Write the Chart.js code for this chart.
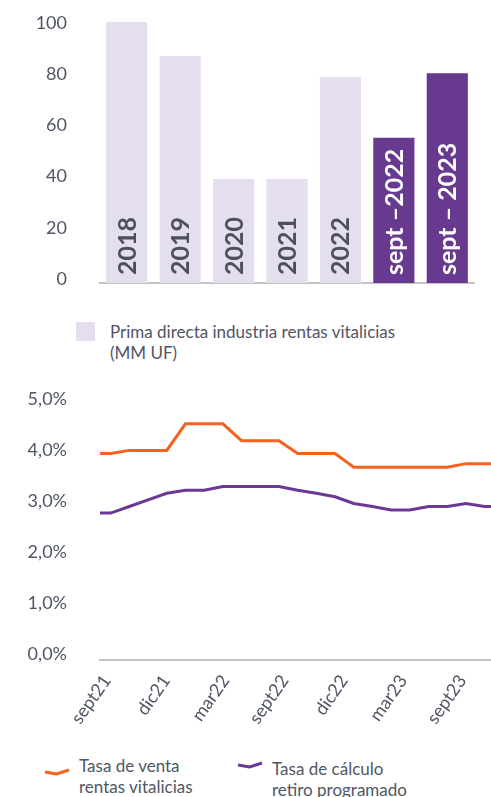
<!DOCTYPE html>
<html lang="es">
<head>
<meta charset="utf-8">
<title>Rentas vitalicias</title>
<script src="https://cdn.jsdelivr.net/npm/chart.js@4.4.1/dist/chart.umd.min.js"></script>
<style>
  html, body { margin: 0; padding: 0; background: #fff; }
  body { width: 491px; height: 797px; overflow: hidden; position: relative;
         font-family: Lato, sans-serif; color: #505664; }
  #primas-box { position: absolute; left: 0; top: 0; width: 491px; height: 300px; }
  #tasas-box { position: absolute; left: 0; top: 380px; width: 540px; height: 350px; }
  .leyenda { position: absolute; font-size: 17px; line-height: 21px; white-space: nowrap; }
  .cuadro { position: absolute; width: 19px; height: 19px; background: #e5deee; }
  .trazo { position: absolute; }
</style>
</head>
<body>

<div id="primas-box"><canvas id="primas"></canvas></div>
<div class="cuadro" style="left:76px; top:322px;"></div>
<div class="leyenda" style="left:110px; top:321px;">Prima directa industria rentas vitalicias<br>(MM UF)</div>

<div id="tasas-box"><canvas id="tasas"></canvas></div>
<svg class="trazo" style="left:44px; top:767px;" width="26" height="10">
  <polyline points="1,5 12.5,7 25,3" fill="none" stroke="#f0641e" stroke-width="3"/>
</svg>
<div class="leyenda" style="left:79px; top:755px;">Tasa de venta<br>rentas vitalicias</div>
<svg class="trazo" style="left:237px; top:760px;" width="26" height="10">
  <polyline points="1,5 12.5,7 25,3" fill="none" stroke="#6a3996" stroke-width="3"/>
</svg>
<div class="leyenda" style="left:272px; top:758px;">Tasa de cálculo<br>retiro programado</div>

<script>
// --- prima directa (MM UF) ---
const anios = ['2018', '2019', '2020', '2021', '2022', 'sept –2022', 'sept – 2023'];
const primas = [102, 88.7, 40.6, 40.6, 80.5, 56.8, 82];
const periodosAnuales = 5; // the first five bars are full years

// --- tasas (%), one value per period ---
const tasaVenta = [4.05, 4.05, 4.11, 4.11, 4.11, 4.63, 4.63, 4.63, 4.30, 4.30, 4.30, 4.05,
                   4.05, 4.05, 3.78, 3.78, 3.78, 3.78, 3.78, 3.78, 3.85, 3.85, 3.85];
const tasaRetiro = [2.88, 2.88, 3.01, 3.14, 3.27, 3.33, 3.33, 3.40, 3.40, 3.40, 3.40, 3.33,
                    3.27, 3.20, 3.07, 3.01, 2.94, 2.94, 3.01, 3.01, 3.07, 3.01, 3.01];
const fechas = ['sept21', 'dic21', 'mar22', 'sept22', 'dic22', 'mar23', 'sept23', 'dic23'];

const GRIS_TEXTO = '#505664';
const LILA = '#e5deee';
const MORADO = '#67398f';
const NARANJA = '#f0641e';
const MORADO_LINEA = '#6a3996';
const FUENTE = 'Lato, sans-serif';

Chart.defaults.font.family = FUENTE;
Chart.defaults.color = GRIS_TEXTO;
Chart.defaults.animation = false;

// fixed-width y axis; tick padding must not eat into the plot height
function ejeIzquierdo(scale) {
  scale.width = 100;
  scale.paddingTop = 0;
  scale.paddingBottom = 0;
}

// year names written upright inside each bar
const etiquetasEnBarras = {
  id: 'etiquetasEnBarras',
  afterDatasetsDraw(chart) {
    const ctx = chart.ctx;
    const base = chart.scales.y.getPixelForValue(0) - 8;
    ctx.save();
    ctx.font = 'bold 25px ' + FUENTE;
    ctx.textAlign = 'left';
    ctx.textBaseline = 'middle';
    chart.getDatasetMeta(0).data.forEach((bar, i) => {
      ctx.save();
      ctx.translate(bar.x, base);
      ctx.rotate(-Math.PI / 2);
      ctx.fillStyle = i < periodosAnuales ? '#4b505c' : '#ffffff';
      ctx.fillText(anios[i], 0, 1);
      ctx.restore();
    });
    ctx.restore();
  }
};

new Chart(document.getElementById('primas'), {
  type: 'bar',
  data: {
    labels: anios,
    datasets: [{
      label: 'Prima directa industria rentas vitalicias (MM UF)',
      data: primas,
      backgroundColor: anios.map((_, i) => i < periodosAnuales ? LILA : MORADO),
      categoryPercentage: 1,
      barPercentage: 0.77,
    }],
  },
  options: {
    responsive: true,
    maintainAspectRatio: false,
    layout: { padding: { top: 22, right: 17, bottom: 17, left: 0 } },
    plugins: { legend: { display: false }, tooltip: { enabled: false } },
    scales: {
      x: {
        grid: { display: false, drawTicks: false },
        border: { color: '#c4c4c6', width: 2 },
        ticks: { display: false },
      },
      y: {
        min: 0,
        max: 102,
        grid: { display: false, drawTicks: false },
        border: { display: false },
        ticks: { stepSize: 20, includeBounds: false, padding: 33, labelOffset: -4,
                 font: { size: 18 } },
        afterFit: ejeIzquierdo,
      },
    },
  },
  plugins: [etiquetasEnBarras],
});

// --- tasas chart: x is the period index ---
const primerTick = 0.8;
const pasoTick = 3.17;

new Chart(document.getElementById('tasas'), {
  type: 'line',
  data: {
    datasets: [
      {
        label: 'Tasa de venta rentas vitalicias',
        data: tasaVenta.map((v, i) => ({ x: i, y: v })),
        borderColor: NARANJA,
        borderWidth: 3,
        pointRadius: 0,
        clip: 0,
      },
      {
        label: 'Tasa de cálculo retiro programado',
        data: tasaRetiro.map((v, i) => ({ x: i, y: v })),
        borderColor: MORADO_LINEA,
        borderWidth: 3,
        pointRadius: 0,
        clip: 0,
      },
    ],
  },
  options: {
    responsive: true,
    maintainAspectRatio: false,
    layout: { padding: { top: 25, right: 8.6, bottom: 0, left: 0 } },
    plugins: { legend: { display: false }, tooltip: { enabled: false } },
    scales: {
      x: {
        type: 'linear',
        min: 0.43,
        max: 23.5,
        grid: { display: false, drawTicks: false },
        border: { color: '#c4c4c6', width: 2 },
        afterBuildTicks(scale) {
          scale.ticks = fechas.map((_, i) => ({ value: primerTick + i * pasoTick }));
        },
        ticks: {
          autoSkip: false,
          minRotation: 55,
          maxRotation: 55,
          padding: 11,
          font: { size: 18 },
          callback: (value, index) => fechas[index],
        },
        afterFit(scale) {
          scale.height = 70;
          scale.paddingLeft = 0;
          scale.paddingRight = 0;
        },
      },
      y: {
        min: 0,
        max: 5,
        grid: { display: false, drawTicks: false },
        border: { display: false },
        ticks: {
          stepSize: 1,
          padding: 33,
          labelOffset: -6,
          font: { size: 18 },
          callback: (v) => v.toFixed(1).replace('.', ',') + '%',
        },
        afterFit: ejeIzquierdo,
      },
    },
  },
});
</script>
</body>
</html>
